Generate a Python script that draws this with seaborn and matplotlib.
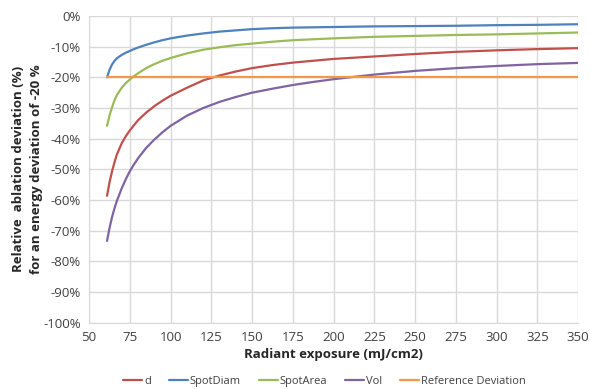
# Relative ablation deviation vs radiant exposure for a -20 % energy deviation

import pandas as pd
import matplotlib
matplotlib.use("Agg")
import matplotlib.pyplot as plt
import seaborn as sns
from matplotlib.ticker import PercentFormatter, MultipleLocator

# Values (percent)
exposure = [61, 62.5, 64, 65.5, 67, 70, 72.5, 75, 77.5, 80, 85, 90, 95, 100, 110, 120, 130, 140,
            150, 162.5, 175, 187.5, 200, 225, 250, 275, 300, 325, 350]
d_dev = [-58.6, -54.3, -50.8, -47.8, -45.2, -41.5, -39.2, -37.3, -35.6, -34.0, -31.5, -29.4, -27.6,
         -26.0, -23.4, -21.0, -19.4, -18.1, -17.0, -16.0, -15.2, -14.6, -14.0, -13.2, -12.4, -11.7,
         -11.2, -10.8, -10.5]
spotdiam_dev = [-20.0, -17.6, -15.9, -14.7, -13.8, -12.7, -12.0, -11.4, -10.8, -10.3, -9.4, -8.6,
                -7.9, -7.3, -6.4, -5.7, -5.1, -4.7, -4.3, -4.0, -3.8, -3.7, -3.6, -3.4, -3.3, -3.2,
                -3.0, -2.9, -2.7]
spotarea_dev = [-35.8, -32.5, -29.9, -27.6, -25.8, -23.4, -21.9, -20.7, -19.6, -18.7, -17.0, -15.7,
                -14.6, -13.7, -12.2, -11.0, -10.2, -9.5, -9.0, -8.4, -7.9, -7.6, -7.3, -6.8, -6.5,
                -6.2, -6.0, -5.7, -5.4]
vol_dev = [-73.3, -69.2, -65.7, -62.8, -60.3, -56.2, -53.2, -50.6, -48.4, -46.4, -43.0, -40.3, -37.9,
           -35.8, -32.5, -30.0, -28.0, -26.4, -25.0, -23.7, -22.5, -21.5, -20.6, -19.1, -17.9, -17.0,
           -16.3, -15.7, -15.3]
ref_dev = [-20.0] * len(exposure)

series_names = ["d", "SpotDiam", "SpotArea", "Vol", "Reference Deviation"]
colors = ["#C0504D", "#4F81BD", "#9BBB59", "#8064A2", "#F79646"]

frames = []
for name, vals in zip(series_names, [d_dev, spotdiam_dev, spotarea_dev, vol_dev, ref_dev]):
    frames.append(pd.DataFrame({"exposure": exposure, "deviation": vals, "series": name}))
df = pd.concat(frames, ignore_index=True)

sns.set_style("white")
plt.rcParams["font.family"] = ["Open Sans", "DejaVu Sans"]
plt.rcParams["axes.unicode_minus"] = False

fig = plt.figure(figsize=(5.9, 3.89), dpi=100)
ax = fig.add_axes([0.151, 0.170, 0.829, 0.789])

sns.lineplot(data=df, x="exposure", y="deviation", hue="series", hue_order=series_names,
             palette=colors, linewidth=1.6, ax=ax, legend=False)

ax.set_xlim(50, 350)
ax.set_ylim(-100, 0)
ax.xaxis.set_major_locator(MultipleLocator(25))
ax.yaxis.set_major_locator(MultipleLocator(10))
ax.yaxis.set_major_formatter(PercentFormatter(decimals=0))

ax.grid(True, color="#D9D9D9", linewidth=1)
ax.set_axisbelow(True)
for side in ["top", "right"]:
    ax.spines[side].set_visible(False)
for side in ["left", "bottom"]:
    ax.spines[side].set_color("#D9D9D9")
ax.tick_params(axis="both", length=0, labelsize=9.5, labelcolor="#404040", pad=6)

ax.set_xlabel("Radiant exposure (mJ/cm2)", fontsize=9.5, fontweight="bold", color="#262626", labelpad=3)
ax.set_ylabel("Relative  ablation deviation (%)\nfor an energy deviation of -20 %",
              fontsize=9.5, fontweight="bold", color="#262626", labelpad=0, linespacing=1.5)

handles = [plt.Line2D([], [], color=c, linewidth=1.6) for c in colors]
fig.legend(handles, series_names, loc="lower center", bbox_to_anchor=(0.55, -0.02), ncol=5,
           frameon=False, fontsize=8, handlelength=1.7, handletextpad=0.2, columnspacing=1.6,
           labelcolor="#404040")

fig.savefig("out.png", dpi=100)
plt.close(fig)
